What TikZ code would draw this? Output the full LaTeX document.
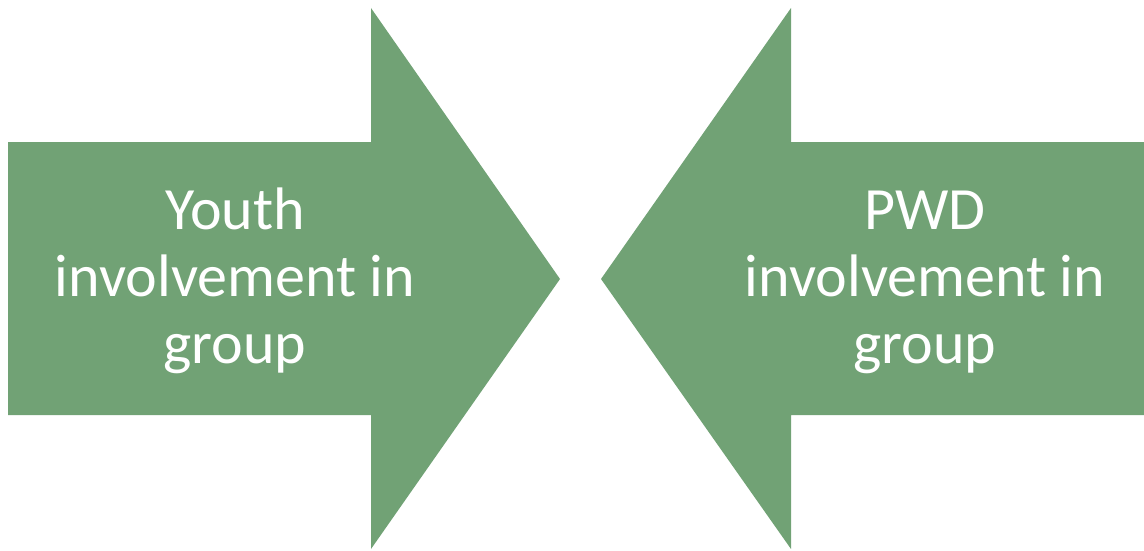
\documentclass[tikz,border=0pt]{standalone}
\usepackage{fontspec}
\setmainfont{Carlito}
\definecolor{arrowgreen}{HTML}{71A275}
\begin{document}
\begin{tikzpicture}[x=1pt,y=-1pt,
  arrowshape/.style={fill=arrowgreen,draw=none},
  label/.style={text=white,align=center,inner sep=0pt,anchor=base,font=\fontsize{60}{67}\selectfont}]
\useasboundingbox (0,0) rectangle (1144,551);
% left arrow
\fill[arrowshape] (8,142) -- (371,142) -- (371,8) -- (560,279) -- (371,549) -- (371,415) -- (8,415) -- cycle;
% right arrow
\fill[arrowshape] (1144,142) -- (791,142) -- (791,8) -- (601,279) -- (791,549) -- (791,415) -- (1144,415) -- cycle;
\node[label] (youth) at (235,363) {Youth\\involvement in\\group};
\node[label] (pwd) at (925,363) {PWD\\involvement in\\group};
\end{tikzpicture}
\end{document}
